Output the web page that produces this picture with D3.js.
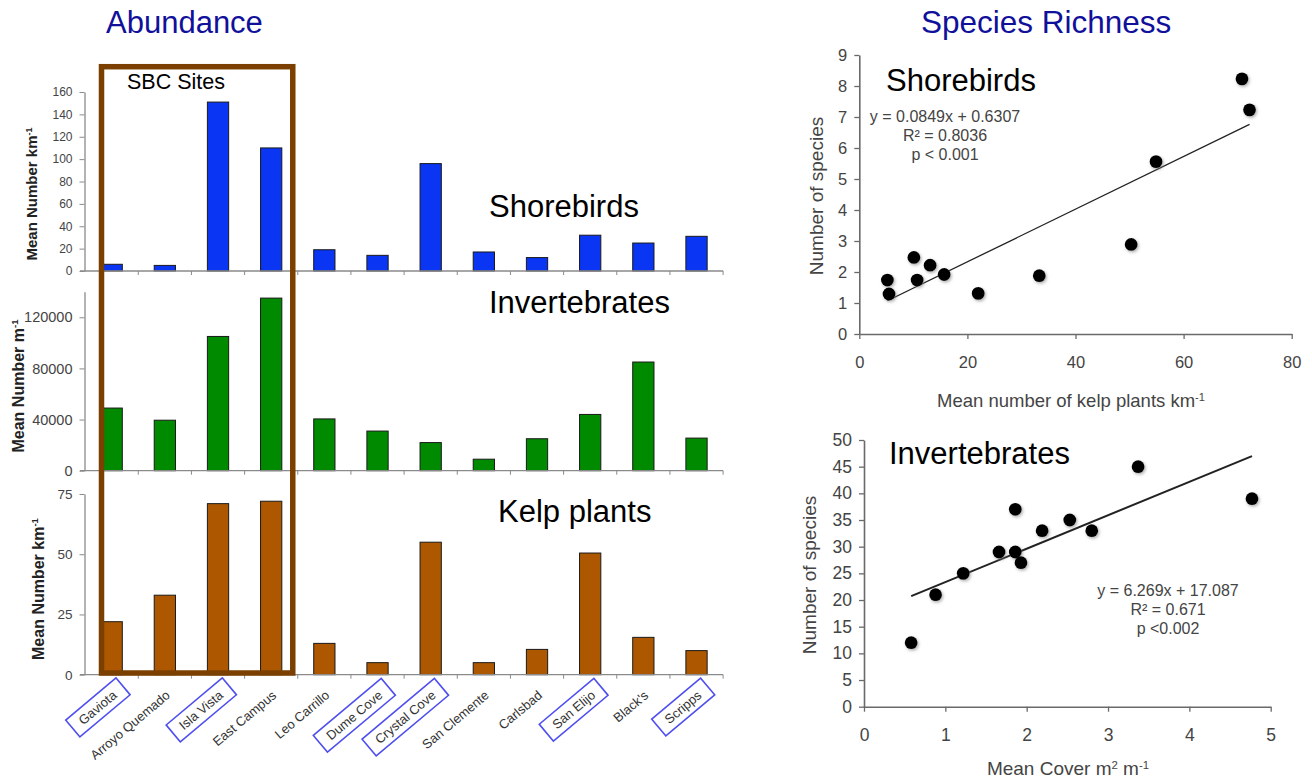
<!DOCTYPE html>
<html>
<head>
<meta charset="utf-8">
<script src="https://cdn.jsdelivr.net/npm/d3@7"></script>
<style>
  body { margin: 0; background: #fff; }
  svg { display: block; font-family: Arial, 'Liberation Sans', sans-serif; }
</style>
</head>
<body>
<svg id="chart" width="1312" height="783"></svg>
<script>
'use strict';

// sites along the coast (bar charts)
var sites = ['Gaviota', 'Arroyo Quemado', 'Isla Vista', 'East Campus', 'Leo Carrillo', 'Dume Cove',
             'Crystal Cove', 'San Clemente', 'Carlsbad', 'San Elijo', "Black's", 'Scripps'];
var boxedSites = ['Gaviota', 'Isla Vista', 'Dume Cove', 'Crystal Cove', 'San Elijo', 'Scripps'];
var sbcSites = ['Gaviota', 'Arroyo Quemado', 'Isla Vista', 'East Campus'];

// abundance
var shorebirdAbund = [6, 5, 151, 110, 19, 14, 96, 17, 12, 32, 25, 31];
var invertAbund = [49000, 39500, 105000, 135000, 40500, 31000, 22000, 9000, 25000, 44000, 85000, 25500];
var kelpAbund = [22, 33, 71, 72, 13, 5, 55, 5, 10.5, 50.5, 15.5, 10];

var shorebirdTicks = [0, 20, 40, 60, 80, 100, 120, 140, 160];
var invertTicks = [0, 40000, 80000, 120000];
var kelpTicks = [0, 25, 50, 75];

// species richness
var kelpDensity = [5.2, 5.5, 10.1, 10.7, 13.1, 15.7, 22.0, 33.3, 50.3, 54.9, 70.8, 72.2];
var shorebirdRich = [1.74, 1.29, 2.47, 1.74, 2.22, 1.92, 1.31, 1.88, 2.89, 5.56, 8.23, 7.23];
var kelpCover = [0.58, 0.88, 1.22, 1.66, 1.86, 1.86, 1.93, 2.19, 2.53, 2.80, 3.37, 4.77];
var invertRich = [12, 21, 25, 29, 37, 29, 27, 33, 35, 33, 45, 39];

var shorebirdFit = [0.0849, 0.6307];
var invertFit = [6.269, 17.087];
var shorebirdStats = ['y = 0.0849x + 0.6307', 'R² = 0.8036', 'p < 0.001'];
var invertStats = ['y = 6.269x + 17.087', 'R² = 0.671', 'p <0.002'];

var richX1Ticks = [0, 20, 40, 60, 80];
var richY1Ticks = [0, 1, 2, 3, 4, 5, 6, 7, 8, 9];
var richX2Ticks = [0, 1, 2, 3, 4, 5];
var richY2Ticks = [0, 5, 10, 15, 20, 25, 30, 35, 40, 45, 50];

var svg = d3.select('#chart');
svg.append('rect').attr('width', 1312).attr('height', 783).attr('fill', '#fff');

var defs = svg.append('defs');
var shadow = defs.append('filter').attr('id', 'dotShadow')
  .attr('x', '-50%').attr('y', '-50%').attr('width', '200%').attr('height', '200%');
shadow.append('feDropShadow').attr('dx', 1.2).attr('dy', 1.5).attr('stdDeviation', 1.4)
  .attr('flood-color', '#777').attr('flood-opacity', 0.6);

var titleColor = '#10109a';
svg.append('text').attr('x', 106).attr('y', 33).attr('font-size', 31).attr('fill', titleColor).text('Abundance');
svg.append('text').attr('x', 921).attr('y', 33).attr('font-size', 31.5).attr('fill', titleColor).text('Species Richness');

// ---------- abundance bars ----------
var x = d3.scaleBand().domain(sites).range([85.1, 723.1]).paddingInner(0.6).paddingOuter(0.3);

var panels = [
  { values: shorebirdAbund, ticks: shorebirdTicks, domain: [0, 160], range: [271, 92], fill: '#0a35f2',
    tickFont: 12, label: 'Mean Number km', sup: '-1', labelX: 37, labelY: 194, labelFont: 15,
    name: 'Shorebirds', nameX: 489, nameY: 216.5 },
  { values: invertAbund, ticks: invertTicks, domain: [0, 140000], range: [470.7, 291.7], fill: '#008a00',
    tickFont: 14.5, label: 'Mean Number m', sup: '-1', labelX: 24, labelY: 386, labelFont: 16,
    name: 'Invertebrates', nameX: 489, nameY: 313 },
  { values: kelpAbund, ticks: kelpTicks, domain: [0, 75], range: [674.7, 494], fill: '#ad5800',
    tickFont: 13.5, label: 'Mean Number km', sup: '-1', labelX: 44, labelY: 589, labelFont: 16,
    name: 'Kelp plants', nameX: 498, nameY: 521.5 }
];

panels.forEach(function(p) {
  var y = d3.scaleLinear().domain(p.domain).range(p.range);
  var g = svg.append('g');

  g.selectAll('rect.bar').data(p.values).enter().append('rect')
    .attr('class', 'bar')
    .attr('x', function(d, i) { return x(sites[i]); })
    .attr('width', x.bandwidth())
    .attr('y', function(d) { return y(d); })
    .attr('height', function(d) { return y(0) - y(d); })
    .attr('fill', p.fill)
    .attr('stroke', '#1a1a1a')
    .attr('stroke-width', 1);

  // baseline with small ticks between categories
  g.append('line').attr('x1', 80).attr('x2', 723.1).attr('y1', y(0)).attr('y2', y(0))
    .attr('stroke', '#8a8a8a').attr('stroke-width', 1.3);
  g.selectAll('line.xt').data(sites).enter().append('line')
    .attr('class', 'xt')
    .attr('x1', function(s) { return x(s) + x.bandwidth() / 2 + x.step() / 2; })
    .attr('x2', function(s) { return x(s) + x.bandwidth() / 2 + x.step() / 2; })
    .attr('y1', y(0)).attr('y2', y(0) + 4)
    .attr('stroke', '#8a8a8a').attr('stroke-width', 1);

  var axis = g.append('g').attr('transform', 'translate(84.5,0)')
    .call(d3.axisLeft(y).tickValues(p.ticks).tickSize(5).tickSizeOuter(0).tickPadding(7).tickFormat(d3.format('d')));
  axis.select('.domain').attr('stroke', '#8a8a8a').attr('stroke-width', 1.3);
  axis.selectAll('.tick line').attr('stroke', '#8a8a8a');
  axis.selectAll('text').attr('font-size', p.tickFont).attr('fill', '#444')
    .attr('font-family', 'Arial, Liberation Sans, sans-serif');

  var lab = g.append('text')
    .attr('transform', 'translate(' + p.labelX + ',' + p.labelY + ') rotate(-90)')
    .attr('text-anchor', 'middle').attr('font-size', p.labelFont).attr('font-weight', 'bold').attr('fill', '#222');
  lab.append('tspan').text(p.label);
  lab.append('tspan').attr('font-size', p.labelFont * 0.6).attr('dy', -p.labelFont * 0.35).text(p.sup);

  g.append('text').attr('x', p.nameX).attr('y', p.nameY).attr('font-size', 31).attr('fill', '#000').text(p.name);
});

// category labels, some boxed
var baseY = 674.7;
var catG = svg.append('g');
sites.forEach(function(s) {
  var cg = catG.append('g')
    .attr('transform', 'translate(' + (x(s) + x.bandwidth() / 2 + 6) + ',' + (baseY + 22) + ') rotate(-40)');
  var t = cg.append('text').attr('text-anchor', 'end').attr('font-size', 13).attr('fill', '#333').text(s);
  if (boxedSites.indexOf(s) >= 0) {
    var b = t.node().getBBox();
    cg.insert('rect', 'text')
      .attr('x', b.x - 10).attr('y', b.y - 3.5)
      .attr('width', b.width + 20).attr('height', b.height + 7)
      .attr('fill', 'none').attr('stroke', '#4f4ff0').attr('stroke-width', 1.6);
  }
});

// SBC box around the first four sites
var sbcLeft = x(sbcSites[0]) + x.bandwidth() / 2 - x.step() / 2 + 16.4;
var sbcRight = x(sbcSites[sbcSites.length - 1]) + x.bandwidth() / 2 + x.step() / 2 - 5;
svg.append('rect')
  .attr('x', sbcLeft).attr('y', 66.7)
  .attr('width', sbcRight - sbcLeft).attr('height', 606.3)
  .attr('fill', 'none').attr('stroke', '#7b3f00').attr('stroke-width', 5.5);
svg.append('text').attr('x', 127).attr('y', 89).attr('font-size', 21.5).attr('fill', '#000').text('SBC Sites');

// ---------- species richness scatter plots ----------
function scatter(opt) {
  var sx = d3.scaleLinear().domain(opt.xDomain).range(opt.xRange);
  var sy = d3.scaleLinear().domain(opt.yDomain).range(opt.yRange);
  var g = svg.append('g');

  var ax = g.append('g').attr('transform', 'translate(0,' + opt.yRange[0] + ')')
    .call(d3.axisBottom(sx).tickValues(opt.xTicks).tickSize(5).tickSizeOuter(0).tickPadding(17).tickFormat(d3.format('d')));
  var ay = g.append('g').attr('transform', 'translate(' + opt.xRange[0] + ',0)')
    .call(d3.axisLeft(sy).tickValues(opt.yTicks).tickSize(5).tickSizeOuter(0).tickPadding(7).tickFormat(d3.format('d')));
  [ax, ay].forEach(function(a) {
    a.select('.domain').attr('stroke', '#6a6a6a').attr('stroke-width', 1.6);
    a.selectAll('.tick line').attr('stroke', '#6a6a6a').attr('stroke-width', 1.3);
    a.selectAll('text').attr('font-size', opt.tickFont).attr('fill', '#444')
      .attr('font-family', 'Arial, Liberation Sans, sans-serif');
  });

  var xr = d3.extent(opt.xs);
  g.append('line')
    .attr('x1', sx(xr[0])).attr('y1', sy(opt.fit[0] * xr[0] + opt.fit[1]))
    .attr('x2', sx(xr[1])).attr('y2', sy(opt.fit[0] * xr[1] + opt.fit[1]))
    .attr('stroke', '#222').attr('stroke-width', opt.fitWidth);

  g.selectAll('circle').data(opt.ys).enter().append('circle')
    .attr('cx', function(d, i) { return sx(opt.xs[i]); })
    .attr('cy', function(d) { return sy(d); })
    .attr('r', 6.4)
    .attr('fill', '#000')
    .attr('filter', 'url(#dotShadow)');

  g.append('text').attr('x', opt.nameX).attr('y', opt.nameY).attr('font-size', 31).text(opt.name);

  opt.stats.forEach(function(s, i) {
    g.append('text').attr('x', opt.statX).attr('y', opt.statY + i * 19)
      .attr('text-anchor', 'middle').attr('font-size', 16).attr('fill', '#444').text(s);
  });

  g.append('text')
    .attr('transform', 'translate(' + opt.yLabX + ',' + opt.yLabY + ') rotate(-90)')
    .attr('text-anchor', 'middle').attr('font-size', 19).attr('fill', '#444').text('Number of species');

  var xl = g.append('text').attr('x', opt.xLabX).attr('y', opt.xLabY)
    .attr('text-anchor', 'middle').attr('font-size', opt.xLabFont).attr('fill', '#444');
  opt.xLabel.forEach(function(part) {
    var ts = xl.append('tspan').text(part[0]);
    if (part[1]) ts.attr('font-size', opt.xLabFont * 0.6).attr('dy', -6);
    else ts.attr('dy', part[2] || 0);
  });
}

scatter({
  xs: kelpDensity, ys: shorebirdRich, fit: shorebirdFit, fitWidth: 1.3,
  xDomain: [0, 80], xRange: [859.3, 1291.7], yDomain: [0, 9], yRange: [334, 55],
  xTicks: richX1Ticks, yTicks: richY1Ticks, tickFont: 16.5,
  name: 'Shorebirds', nameX: 886, nameY: 90.5,
  stats: shorebirdStats, statX: 945, statY: 121.5,
  yLabX: 823, yLabY: 196,
  xLabX: 1071, xLabY: 406.5, xLabFont: 18.5,
  xLabel: [['Mean number of kelp plants km'], ['-1', true]]
});

scatter({
  xs: kelpCover, ys: invertRich, fit: invertFit, fitWidth: 2,
  xDomain: [0, 5], xRange: [864, 1270.7], yDomain: [0, 50], yRange: [706.7, 440],
  xTicks: richX2Ticks, yTicks: richY2Ticks, tickFont: 17.5,
  name: 'Invertebrates', nameX: 889, nameY: 464,
  stats: invertStats, statX: 1168, statY: 596,
  yLabX: 816, yLabY: 575,
  xLabX: 1068, xLabY: 775, xLabFont: 19,
  xLabel: [['Mean Cover m'], ['2', true], [' m', false, 6], ['-1', true]]
});
</script>
</body>
</html>
